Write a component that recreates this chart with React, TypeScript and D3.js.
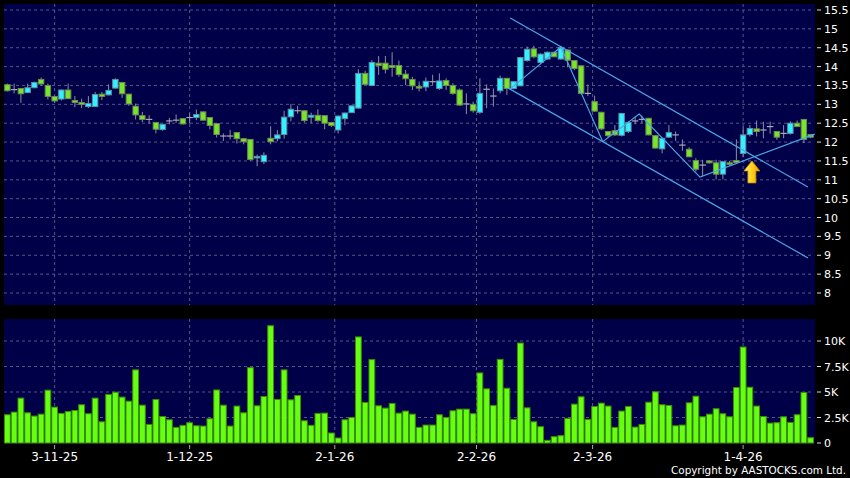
import React from "react";
import * as d3 from "d3";

const opens = [13.52,13.39,13.42,13.31,13.44,13.66,13.5,13.21,13.14,13.38,13.1,13.05,12.94,12.94,13.27,13.25,13.43,13.58,13.27,12.95,12.7,12.6,12.52,12.33,12.56,12.58,12.62,12.65,12.65,12.8,12.65,12.49,12.16,12.16,12.25,12.09,12.07,11.6,11.48,12.1,12.09,12.2,12.67,12.83,12.83,12.66,12.71,12.7,12.52,12.32,12.62,12.78,12.9,13.82,13.5,14.09,14.09,14.03,14.03,13.8,13.66,13.47,13.46,13.6,13.42,13.63,13.5,13.38,13.01,13.0,12.79,13.4,13.22,13.36,13.69,13.42,13.49,14.16,14.47,14.11,14.2,14.38,14.2,14.44,14.16,14.02,13.29,13.07,12.79,12.28,12.3,12.18,12.28,12.56,12.6,12.63,12.17,11.82,12.13,12.19,11.92,11.81,11.51,11.39,11.5,11.45,11.15,11.45,11.51,11.7,12.2,12.35,12.32,12.41,12.28,12.23,12.23,12.5,12.6,12.2];
const highs = [13.55,13.55,13.43,13.55,13.6,13.71,13.55,13.22,13.39,13.55,13.22,13.15,13.22,13.33,13.33,13.53,13.69,13.59,13.28,13.02,12.8,12.71,12.53,12.48,12.64,12.73,12.63,12.76,12.86,12.81,12.66,12.5,12.23,12.32,12.26,12.1,12.08,11.67,11.73,12.42,12.32,12.83,13.01,12.96,12.84,12.78,12.87,12.71,12.53,12.7,12.78,12.97,13.93,13.89,14.17,14.28,14.28,14.38,14.16,13.91,13.73,13.6,13.71,13.78,13.82,13.69,13.56,13.42,13.29,13.07,13.69,13.53,13.42,13.76,13.7,13.61,14.26,14.53,14.55,14.35,14.4,14.39,14.55,14.45,14.17,14.03,13.53,13.23,12.8,12.29,12.45,12.77,12.55,12.67,12.7,12.64,12.18,12.11,12.45,12.28,12.07,11.86,11.57,11.53,11.52,11.53,11.5,11.5,12.07,12.41,12.45,12.57,12.54,12.54,12.29,12.45,12.55,12.57,12.61,12.21];
const lows = [13.34,13.29,13.04,13.3,13.43,13.5,13.13,13.04,13.1,13.14,12.92,12.9,12.9,12.93,13.11,13.24,13.42,13.17,12.96,12.6,12.53,12.49,12.23,12.3,12.47,12.51,12.47,12.49,12.58,12.57,12.34,12.12,12.03,12.07,11.96,11.94,11.5,11.36,11.42,11.94,12.02,12.09,12.55,12.75,12.52,12.5,12.54,12.34,12.4,12.23,12.45,12.77,12.89,13.52,13.49,13.78,13.82,13.73,13.73,13.51,13.38,13.34,13.35,13.51,13.38,13.38,13.25,12.97,12.74,12.78,12.75,12.9,12.94,13.29,13.25,13.4,13.48,14.13,14.22,14.08,14.19,14.25,14.19,13.98,13.9,13.27,13.22,12.8,12.32,12.12,12.16,12.15,12.24,12.47,12.5,12.18,11.83,11.7,12.12,12.03,11.77,11.6,11.22,11.1,11.43,11.01,11.01,11.38,11.42,11.6,12.15,12.15,12.1,12.22,12.06,12.1,12.2,12.4,11.97,12.1];
const closes = [13.36,13.39,13.28,13.44,13.58,13.54,13.21,13.09,13.38,13.15,13.05,13.0,13.02,13.26,13.21,13.37,13.66,13.28,13.01,12.72,12.6,12.6,12.34,12.47,12.56,12.58,12.48,12.65,12.73,12.58,12.44,12.2,12.16,12.16,12.09,12.01,11.54,11.62,11.65,12.01,12.19,12.66,12.87,12.83,12.57,12.71,12.57,12.5,12.44,12.69,12.77,12.96,13.82,13.53,14.11,14.03,13.93,13.98,13.79,13.68,13.49,13.43,13.61,13.6,13.62,13.5,13.29,12.98,13.01,12.83,13.29,13.4,13.22,13.69,13.42,13.6,14.24,14.46,14.26,14.33,14.38,14.26,14.5,14.17,13.95,13.29,13.29,12.82,12.35,12.17,12.19,12.76,12.52,12.56,12.6,12.19,11.84,12.1,12.25,12.19,11.92,11.61,11.28,11.39,11.45,11.15,11.48,11.42,11.46,12.19,12.36,12.28,12.32,12.41,12.13,12.23,12.5,12.41,12.07,12.13];
const volumesK = [2.77,3.03,4.4,2.96,2.64,2.83,5.18,3.52,2.9,3.09,3.19,3.75,2.87,4.4,2.08,4.76,4.98,4.5,4.1,7.17,3.71,1.82,4.27,2.6,2.28,1.53,1.73,1.99,1.69,1.66,2.38,5.2,3.71,1.66,3.62,2.96,7.39,3.65,4.56,11.5,4.27,7.17,4.23,4.66,2.18,1.73,2.9,2.93,0.98,0.49,2.28,2.5,10.4,3.97,8.18,3.65,3.42,3.88,2.93,3.13,2.83,1.53,1.76,1.76,2.77,2.5,3.16,3.32,3.32,2.87,6.87,5.31,3.68,8.2,5.37,2.31,9.8,3.45,2.08,1.6,0.26,0.62,0.72,2.41,3.81,4.53,2.31,3.58,3.91,3.62,1.53,3.13,3.58,1.56,1.82,4.0,5.02,3.75,3.68,1.69,1.76,3.94,4.59,2.57,2.83,3.36,2.87,2.57,5.44,9.41,5.47,3.62,2.6,1.95,1.99,2.57,2.02,2.77,4.95,0.52];

const dateLabels = ["3-11-25", "1-12-25", "2-1-26", "2-2-26", "2-3-26", "1-4-26"];
const dateTickIdx = [7, 27, 48.5, 69.5, 86.7, 109];
const priceTicks = [8, 8.5, 9, 9.5, 10, 10.5, 11, 11.5, 12, 12.5, 13, 13.5, 14, 14.5, 15, 15.5];
const volTicks = [0, 2.5, 5, 7.5, 10];
const volTickLabels = ["0", "2.5K", "5K", "7.5K", "10K"];

// trend lines: [bar index, price]
const upperChannel = [[74.5, 15.29], [118.6, 10.81]];
const lowerChannel = [[74.2, 13.43], [118.6, 8.93]];
const zigzag = [[74.5, 13.41], [82.0, 14.52], [88.2, 12.01], [93.6, 12.74], [102.6, 11.07], [119.6, 12.21]];
const arrowPoint = [110.3, 11.5];

const W = 850, H = 478;
const PL = 4, PR = 814;
const PT = 4, PB = 305;
const VT = 319, VB = 444;
const GRID = "#55558a";
const LINE = "#4aa6e6";
const FONT = "DejaVu Sans, sans-serif";

export default function App() {
  const n = closes.length;
  const x = d3.scaleLinear().domain([-0.5, n - 0.5]).range([PL, PR]);
  const y = d3.scaleLinear().domain([8, 15.5]).range([293, 10]);
  const yv = d3.scaleLinear().domain([0, 10]).range([443, 341]);
  const line = d3.line<number[]>().x(d => x(d[0])).y(d => y(d[1]));
  const bw = 5.4;
  const ax = x(arrowPoint[0]);
  const ay = y(arrowPoint[1]);
  return (
    <svg width={W} height={H} style={{ position: "absolute", left: 0, top: 0, display: "block" }}>
      <defs>
        <linearGradient id="arrowGrad" x1="0" x2="1" y1="0" y2="0">
          <stop offset="0" stopColor="#fff27a" />
          <stop offset="0.5" stopColor="#ffd21a" />
          <stop offset="1" stopColor="#f29a00" />
        </linearGradient>
        <clipPath id="pclip"><rect x={PL} y={PT} width={PR - PL + 1} height={PB - PT} /></clipPath>
      </defs>
      <rect x={0} y={0} width={W} height={H} fill="#000" />
      <rect x={PL} y={PT} width={PR - PL + 1} height={PB - PT} fill="#000048" />
      <rect x={PL} y={VT} width={PR - PL + 1} height={VB - VT} fill="#000048" />
      {priceTicks.map(t => (
        <line key={"pg" + t} x1={PL} x2={PR} y1={y(t)} y2={y(t)} stroke={GRID} strokeDasharray="3,3" />
      ))}
      {dateTickIdx.map((t, i) => (
        <g key={"vg" + i}>
          <line x1={x(t)} x2={x(t)} y1={PT} y2={PB} stroke={GRID} strokeDasharray="3,3" />
          <line x1={x(t)} x2={x(t)} y1={VT} y2={VB} stroke={GRID} strokeDasharray="3,3" />
          <line x1={x(t)} x2={x(t)} y1={VB + 1} y2={VB + 5} stroke="#aaa" />
          <text x={x(t)} y={461} fill="#fff" fontSize={12} fontFamily={FONT} textAnchor="middle">{dateLabels[i]}</text>
        </g>
      ))}
      {volTicks.slice(1).map(t => (
        <line key={"vgh" + t} x1={PL} x2={PR} y1={yv(t)} y2={yv(t)} stroke={GRID} strokeDasharray="3,3" />
      ))}
      {priceTicks.map(t => (
        <g key={"pl" + t}>
          <line x1={817} x2={821} y1={y(t)} y2={y(t)} stroke="#ddd" />
          <text x={824} y={y(t) + 4} fill="#fff" fontSize={11} fontFamily={FONT}>{String(t)}</text>
        </g>
      ))}
      {volTicks.map((t, i) => (
        <g key={"vl" + t}>
          <line x1={817} x2={821} y1={yv(t)} y2={yv(t)} stroke="#ddd" />
          <text x={824} y={yv(t) + 4} fill="#fff" fontSize={11} fontFamily={FONT}>{volTickLabels[i]}</text>
        </g>
      ))}
      <g clipPath="url(#pclip)">
        {closes.map((c, i) => {
          const o = opens[i];
          const cx = x(i);
          const top = y(Math.max(o, c));
          const bot = y(Math.min(o, c));
          const up = c > o;
          const doji = c === o;
          return (
            <g key={"c" + i}>
              <line x1={cx} x2={cx} y1={y(highs[i])} y2={y(lows[i])} stroke="#8e8ea0" strokeWidth={1} />
              {doji ? (
                <line x1={cx - 3.2} x2={cx + 3.2} y1={top} y2={top} stroke="#a8a8b8" strokeWidth={1.2} />
              ) : (
                <rect x={cx - bw / 2} y={top} width={bw} height={Math.max(1.5, bot - top)}
                  fill={up ? "#33f2ff" : "#77e62a"} stroke={up ? "#5c8fa6" : "#6f8a55"} strokeWidth={1} />
              )}
            </g>
          );
        })}
        <path d={line(upperChannel as any) || ""} fill="none" stroke={LINE} strokeWidth={1.2} />
        <path d={line(lowerChannel as any) || ""} fill="none" stroke={LINE} strokeWidth={1.2} />
        <path d={line(zigzag as any) || ""} fill="none" stroke={LINE} strokeWidth={1.2} />
        <path d={`M${ax},${ay} L${ax + 8},${ay + 10} L${ax + 4},${ay + 10} L${ax + 4},${ay + 22} L${ax - 4},${ay + 22} L${ax - 4},${ay + 10} L${ax - 8},${ay + 10} Z`}
          fill="url(#arrowGrad)" stroke="#c98a00" strokeWidth={0.8} />
      </g>
      {volumesK.map((v, i) => (
        <rect key={"v" + i} x={x(i) - 2.9} y={yv(v)} width={5.8} height={yv(0) - yv(v)}
          fill="#66ff11" stroke="#3c8c06" strokeWidth={1} />
      ))}
      <text x={846} y={474} fill="#fff" fontSize={10.4} fontFamily={FONT} textAnchor="end">Copyright by AASTOCKS.com Ltd.</text>
    </svg>
  );
}
